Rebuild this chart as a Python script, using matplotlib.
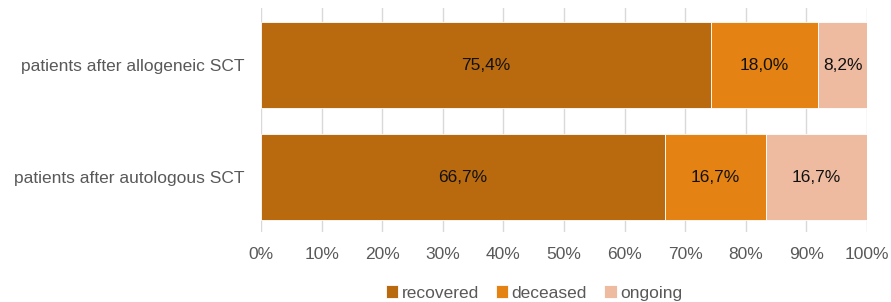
import matplotlib.pyplot as plt
import numpy as np

plt.rcParams["font.family"] = ["Liberation Sans", "DejaVu Sans"]

categories = ["patients after allogeneic SCT", "patients after autologous SCT"]
series = ["recovered", "deceased", "ongoing"]
recovered = [75.4, 66.7]
deceased = [18.0, 16.7]
ongoing = [8.2, 16.7]
colors = ["#BA6A0E", "#E48213", "#EEBBA0"]

values = np.array([recovered, deceased, ongoing])
totals = values.sum(axis=0)
shares = values / totals * 100

fig = plt.figure(figsize=(8.91, 3.02), dpi=100)
ax = fig.add_axes([261 / 891, 1 - 232 / 302, 606 / 891, 224 / 302])

ypos = [1, 0]
left = np.zeros(len(categories))
for name, share, raw, color in zip(series, shares, values, colors):
    ax.barh(ypos, share, left=left, height=0.77, color=color,
            edgecolor="white", linewidth=0.6, label=name, zorder=2)
    for y, l, s, r in zip(ypos, left, share, raw):
        ax.text(l + s / 2, y, f"{r:.1f}%".replace(".", ","),
                ha="center", va="center", fontsize=12.5, color="#111111", zorder=3)
    left += share

ax.set_xlim(0, 100)
ax.set_ylim(-0.49, 1.51)
ax.set_xticks(np.arange(0, 101, 10))
ax.set_xticklabels([f"{t}%" for t in range(0, 101, 10)])
ax.set_yticks(ypos)
ax.set_yticklabels(categories)
ax.tick_params(axis="both", length=0, labelsize=12.5, labelcolor="#595959")
ax.tick_params(axis="x", pad=11)
ax.tick_params(axis="y", pad=12)
ax.grid(axis="x", color="#d9d9d9", linewidth=1, zorder=0)
for sp in ax.spines.values():
    sp.set_visible(False)

fig.legend(loc="center", bbox_to_anchor=(534 / 891, 1 - 293 / 302), ncol=3,
           frameon=False, fontsize=12.5, handlelength=0.7, handleheight=0.7,
           handletextpad=0.2, columnspacing=1.0, labelcolor="#595959")

fig.savefig("out.png", dpi=100)
